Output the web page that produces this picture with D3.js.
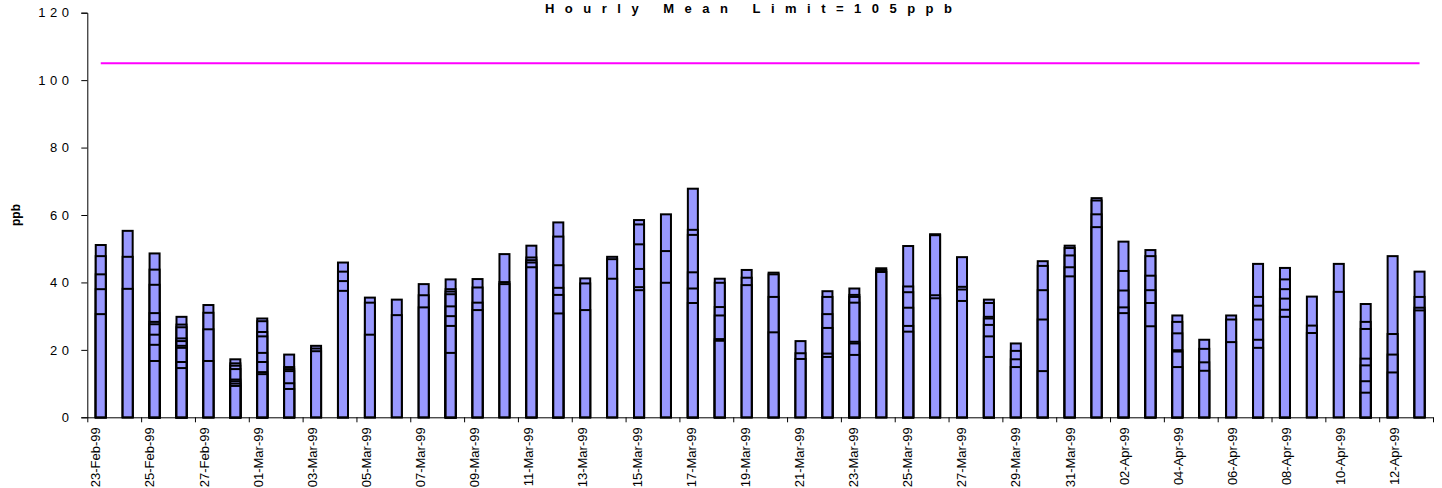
<!DOCTYPE html>
<meta charset="utf-8">
<style>
body { margin: 0; background: #fff; }
text { font-family: Arial, "Liberation Sans", sans-serif; fill: #000; }
.bar { fill: #9999ff; stroke: #000; stroke-width: 2px; }
.limit { fill: none; stroke: #ff00ff; stroke-width: 2px; }
.axis path, .axis line { stroke: #000; stroke-width: 1px; }
</style>
<body>
<script src="https://d3js.org/d3.v7.min.js"></script>
<script>

// one bar per day; the hourly means of that day are drawn over each other,
// so every level shows up as a black line inside the bar
var dates = [
  "23-Feb-99","24-Feb-99","25-Feb-99","26-Feb-99","27-Feb-99","28-Feb-99",
  "01-Mar-99","02-Mar-99","03-Mar-99","04-Mar-99","05-Mar-99","06-Mar-99",
  "07-Mar-99","08-Mar-99","09-Mar-99","10-Mar-99","11-Mar-99","12-Mar-99",
  "13-Mar-99","14-Mar-99","15-Mar-99","16-Mar-99","17-Mar-99","18-Mar-99",
  "19-Mar-99","20-Mar-99","21-Mar-99","22-Mar-99","23-Mar-99","24-Mar-99",
  "25-Mar-99","26-Mar-99","27-Mar-99","28-Mar-99","29-Mar-99","30-Mar-99",
  "31-Mar-99","01-Apr-99","02-Apr-99","03-Apr-99","04-Apr-99","05-Apr-99",
  "06-Apr-99","07-Apr-99","08-Apr-99","09-Apr-99","10-Apr-99","11-Apr-99",
  "12-Apr-99","13-Apr-99"
];

var hourlyMeans = [
  [51.1, 47.8, 42.4, 38.0, 30.6],
  [55.3, 47.6, 38.1],
  [48.6, 43.8, 39.3, 30.9, 28.3, 27.6, 24.5, 21.5, 16.7],
  [29.8, 27.5, 26.7, 23.4, 22.6, 21.2, 20.6, 16.4, 14.6],
  [33.3, 31.0, 26.1, 16.7],
  [17.2, 16.0, 15.3, 14.3, 11.2, 10.7, 10.0, 9.3],
  [29.3, 28.5, 25.3, 24.0, 19.1, 16.4, 13.4, 12.8],
  [18.6, 14.9, 14.3, 13.7, 10.1, 8.4],
  [21.2, 20.4, 19.6],
  [45.9, 43.2, 40.4, 37.5],
  [35.5, 34.0, 24.5],
  [34.9, 30.3],
  [39.5, 36.2, 32.6],
  [40.9, 38.0, 37.3, 36.5, 32.9, 30.0, 27.1, 19.1],
  [41.0, 38.5, 34.0, 31.8],
  [48.4, 40.1, 39.5],
  [50.9, 47.4, 46.6, 45.9, 44.5],
  [57.8, 53.6, 45.1, 38.4, 36.3, 30.8],
  [41.2, 39.7, 31.8],
  [47.6, 46.9, 41.1],
  [58.5, 57.2, 51.3, 44.0, 38.6, 37.7],
  [60.2, 49.3, 39.9],
  [67.8, 55.6, 54.1, 43.0, 38.2, 33.9],
  [41.1, 39.9, 32.7, 30.2, 23.2, 22.7],
  [43.7, 41.4, 39.2],
  [42.9, 42.4, 35.7, 25.2],
  [22.6, 19.0, 17.3],
  [37.4, 35.7, 30.6, 26.5, 18.9, 17.9],
  [38.2, 36.3, 35.7, 34.0, 22.4, 21.9, 18.5],
  [44.2, 43.7, 43.1],
  [50.8, 38.8, 37.1, 32.5, 27.1, 25.4],
  [54.3, 54.0, 36.2, 35.3],
  [47.5, 38.7, 37.9, 34.5],
  [34.9, 33.9, 29.8, 29.3, 27.4, 24.0, 17.9],
  [21.9, 19.7, 17.2, 14.9],
  [46.3, 44.9, 37.7, 29.0, 13.7],
  [50.9, 50.2, 48.0, 44.5, 41.8],
  [65.0, 64.3, 60.2, 56.4],
  [52.1, 43.4, 37.6, 32.6, 30.9],
  [49.6, 47.8, 42.0, 37.7, 33.9, 27.0],
  [30.2, 28.3, 24.9, 19.9, 19.5, 14.9],
  [23.0, 20.3, 16.3, 13.8],
  [30.2, 29.0, 22.3],
  [45.5, 35.7, 33.1, 29.0, 23.0, 20.6],
  [44.3, 40.9, 38.0, 35.2, 31.9, 29.8],
  [35.8, 27.2, 25.0],
  [45.5, 37.2],
  [33.6, 28.3, 26.2, 17.4, 15.4, 10.7, 7.3],
  [47.8, 24.7, 18.6, 13.3],
  [43.2, 35.7, 32.5, 31.7]
];

var limitValue = 105;
var yTicks = [0, 20, 40, 60, 80, 100, 120];
var labelDates = dates.filter(function(d, i) { return i % 2 == 0; });

var width = 1442, height = 488;
var plot = {left: 87.3, right: 1433, top: 12.7, bottom: 417.3};

var svg = d3.select("body").append("svg")
    .attr("width", width)
    .attr("height", height);

var x = d3.scaleBand()
    .domain(dates)
    .range([plot.left, plot.right])
    .paddingInner(0.628)
    .paddingOuter(0.314);

// category edges, for the tick marks between days
var xEdge = d3.scaleLinear()
    .domain([0, dates.length])
    .range([plot.left, plot.right]);

// the date labels sit on a slightly wider pitch than the bars in the original
var xLabel = d3.scalePoint()
    .domain(dates)
    .range([95.3, 95.3 + 27.06 * (dates.length - 1)]);

var y = d3.scaleLinear()
    .domain([0, 120])
    .range([plot.bottom, plot.top]);

// bars, tallest first so the lower hours draw on top
var day = svg.append("g").selectAll("g")
    .data(dates)
  .enter().append("g");

day.selectAll("rect")
    .data(function(d, i) {
      return hourlyMeans[i].slice().sort(d3.descending)
        .map(function(v) { return {date: d, value: v}; });
    })
  .enter().append("rect")
    .attr("class", "bar")
    .attr("x", function(d) { return x(d.date); })
    .attr("width", x.bandwidth())
    .attr("y", function(d) { return y(d.value); })
    .attr("height", function(d) { return y(0) - y(d.value); });

// limit line
var limitLine = d3.line()
    .x(function(d) { return x(d) + x.bandwidth() / 2; })
    .y(function() { return y(limitValue); });

svg.append("path")
    .datum(dates)
    .attr("class", "limit")
    .attr("d", limitLine);

// y axis
var yAxis = svg.append("g")
    .attr("class", "axis")
    .attr("transform", "translate(" + plot.left + ",0)")
    .call(d3.axisLeft(y).tickValues(yTicks).tickSize(6).tickPadding(7.8));

yAxis.selectAll("text")
    .style("font-size", "13px")
    .style("letter-spacing", "4.5px")
    .attr("font-family", null);

// x axis line and tick marks
svg.append("g")
    .attr("class", "axis")
    .attr("transform", "translate(0," + plot.bottom + ")")
    .call(d3.axisBottom(xEdge)
      .tickValues(d3.range(0, dates.length + 1, 2))
      .tickSize(5)
      .tickSizeOuter(0)
      .tickFormat(""));

// date labels
var xAxis = svg.append("g")
    .attr("transform", "translate(0," + plot.bottom + ")")
    .call(d3.axisBottom(xLabel).tickValues(labelDates).tickSize(0));

xAxis.select(".domain").remove();
xAxis.selectAll("text")
    .attr("font-family", null)
    .style("font-size", "13px")
    .attr("transform", "rotate(-90)")
    .attr("text-anchor", "end")
    .attr("x", -10)
    .attr("y", 0)
    .attr("dy", "0.35em");

// y label
svg.append("text")
    .attr("transform", "translate(16," + ((plot.top + plot.bottom) / 2) + ") rotate(-90)")
    .attr("text-anchor", "middle")
    .attr("dy", "0.35em")
    .style("font-size", "12px")
    .style("font-weight", "bold")
    .text("ppb");

// title
svg.append("text")
    .attr("x", 545)
    .attr("y", 12.5)
    .attr("textLength", 407)
    .attr("lengthAdjust", "spacing")
    .style("font-size", "13px")
    .style("font-weight", "bold")
    .text("Hourly Mean Limit=105ppb");

</script>
</body>
